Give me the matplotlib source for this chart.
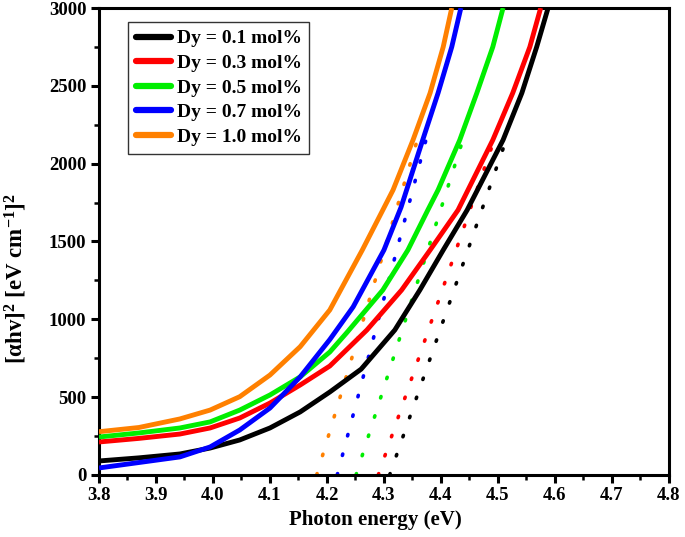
import numpy as np
import matplotlib
matplotlib.use('Agg')
import matplotlib.pyplot as plt
from matplotlib.ticker import MultipleLocator

plt.rcParams['font.family'] = 'Liberation Serif'
plt.rcParams['font.weight'] = 'bold'
plt.rcParams['mathtext.fontset'] = 'custom'
plt.rcParams['mathtext.rm'] = 'Liberation Serif:bold'
plt.rcParams['mathtext.it'] = 'Liberation Serif:bold'
plt.rcParams['mathtext.bf'] = 'Liberation Serif:bold'

# ---- data ----
labels = ['Dy = 0.1 mol%', 'Dy = 0.3 mol%', 'Dy = 0.5 mol%', 'Dy = 0.7 mol%', 'Dy = 1.0 mol%']
colors = ['#000000', '#ff0000', '#00ee00', '#0000ff', '#ff8000']

e_01 = [3.80, 3.87, 3.942, 3.995, 4.047, 4.10, 4.153, 4.205, 4.26, 4.319, 4.363, 4.404, 4.446, 4.509, 4.542, 4.568, 4.588]
a_01 = [90, 110, 135, 173, 225, 302, 405, 533, 680, 931, 1188, 1445, 1702, 2152, 2454, 2750, 3000]

e_03 = [3.80, 3.87, 3.942, 3.995, 4.047, 4.10, 4.153, 4.205, 4.27, 4.331, 4.381, 4.430, 4.491, 4.526, 4.556, 4.575]
a_03 = [212, 235, 263, 302, 366, 462, 578, 700, 931, 1188, 1445, 1702, 2152, 2454, 2750, 3000]

e_05 = [3.80, 3.87, 3.942, 3.995, 4.047, 4.10, 4.153, 4.205, 4.235, 4.298, 4.342, 4.377, 4.395, 4.433, 4.463, 4.491, 4.509]
a_05 = [244, 270, 302, 341, 417, 514, 630, 790, 915, 1188, 1445, 1702, 1831, 2152, 2454, 2750, 3000]

e_07 = [3.80, 3.87, 3.942, 3.995, 4.047, 4.10, 4.153, 4.205, 4.246, 4.30, 4.33, 4.368, 4.395, 4.419, 4.435]
a_07 = [45, 80, 116, 180, 289, 430, 630, 870, 1080, 1445, 1720, 2152, 2454, 2750, 3000]

e_10 = [3.80, 3.87, 3.942, 3.995, 4.047, 4.10, 4.153, 4.205, 4.262, 4.298, 4.316, 4.351, 4.381, 4.404, 4.419]
a_10 = [278, 305, 360, 417, 503, 642, 824, 1060, 1445, 1702, 1831, 2152, 2454, 2750, 3000]

# band-gap extrapolation: x-intercept and slope of the dotted tangent lines
gap = [4.310, 4.290, 4.251, 4.218, 4.182]
slope = [10530, 10580, 11480, 13820, 12190]
tangent_top = 2200

energies = [e_01, e_03, e_05, e_07, e_10]
absorb = [a_01, a_03, a_05, a_07, a_10]

fig = plt.figure(figsize=(6.85, 5.37), dpi=100)
ax = fig.add_axes([0.1445, 0.1155, 0.832, 0.8696])

for g, s, c in zip(gap, slope, colors):
    xs = [g, g + tangent_top / s]
    ax.plot(xs, [0, tangent_top], color=c, lw=2.6,
            linestyle=(0, (0.4, 5.2)), dash_capstyle='round', zorder=2)

for e, a, c, lab in zip(energies, absorb, colors, labels):
    ax.plot(e, a, color=c, lw=3.5, label=lab, zorder=3,
            solid_joinstyle='round', solid_capstyle='butt')

ax.set_xlim(3.8, 4.8)
ax.set_ylim(0, 3000)
ax.xaxis.set_major_locator(MultipleLocator(0.1))
ax.xaxis.set_minor_locator(MultipleLocator(0.05))
ax.yaxis.set_major_locator(MultipleLocator(500))
ax.yaxis.set_minor_locator(MultipleLocator(250))
ax.xaxis.set_major_formatter(plt.FormatStrFormatter('%.1f'))

for sp in ax.spines.values():
    sp.set_linewidth(2.2)
ax.tick_params(which='major', direction='out', length=6, width=2.2,
               labelsize=13.5, top=False, right=False, pad=3)
ax.tick_params(which='minor', direction='out', length=3.5, width=1.8,
               top=False, right=False)
for t in ax.get_xticklabels() + ax.get_yticklabels():
    t.set_fontweight('bold')

ax.set_xlabel('Photon energy (eV)', fontsize=15, fontweight='bold', labelpad=3)
ax.xaxis.set_label_coords(0.485, -0.075)
ax.set_ylabel(r'[$\alpha$hv]$^2$ [eV cm$^{-1}$]$^2$', fontsize=16.5,
              fontweight='bold')
ax.yaxis.set_label_coords(-0.123, 0.42)

leg = ax.legend(loc='upper left', bbox_to_anchor=(0.051, 0.97), frameon=True,
                fancybox=False, edgecolor='black', fontsize=14,
                handlelength=1.8, handletextpad=0.3, labelspacing=0.36,
                borderpad=0.4, borderaxespad=0.0)
leg.get_frame().set_linewidth(1.0)
for h in leg.get_lines():
    h.set_linewidth(4.5)
    h.set_solid_capstyle('round')
for t in leg.get_texts():
    t.set_fontweight('bold')

fig.savefig('out.png', dpi=100)
